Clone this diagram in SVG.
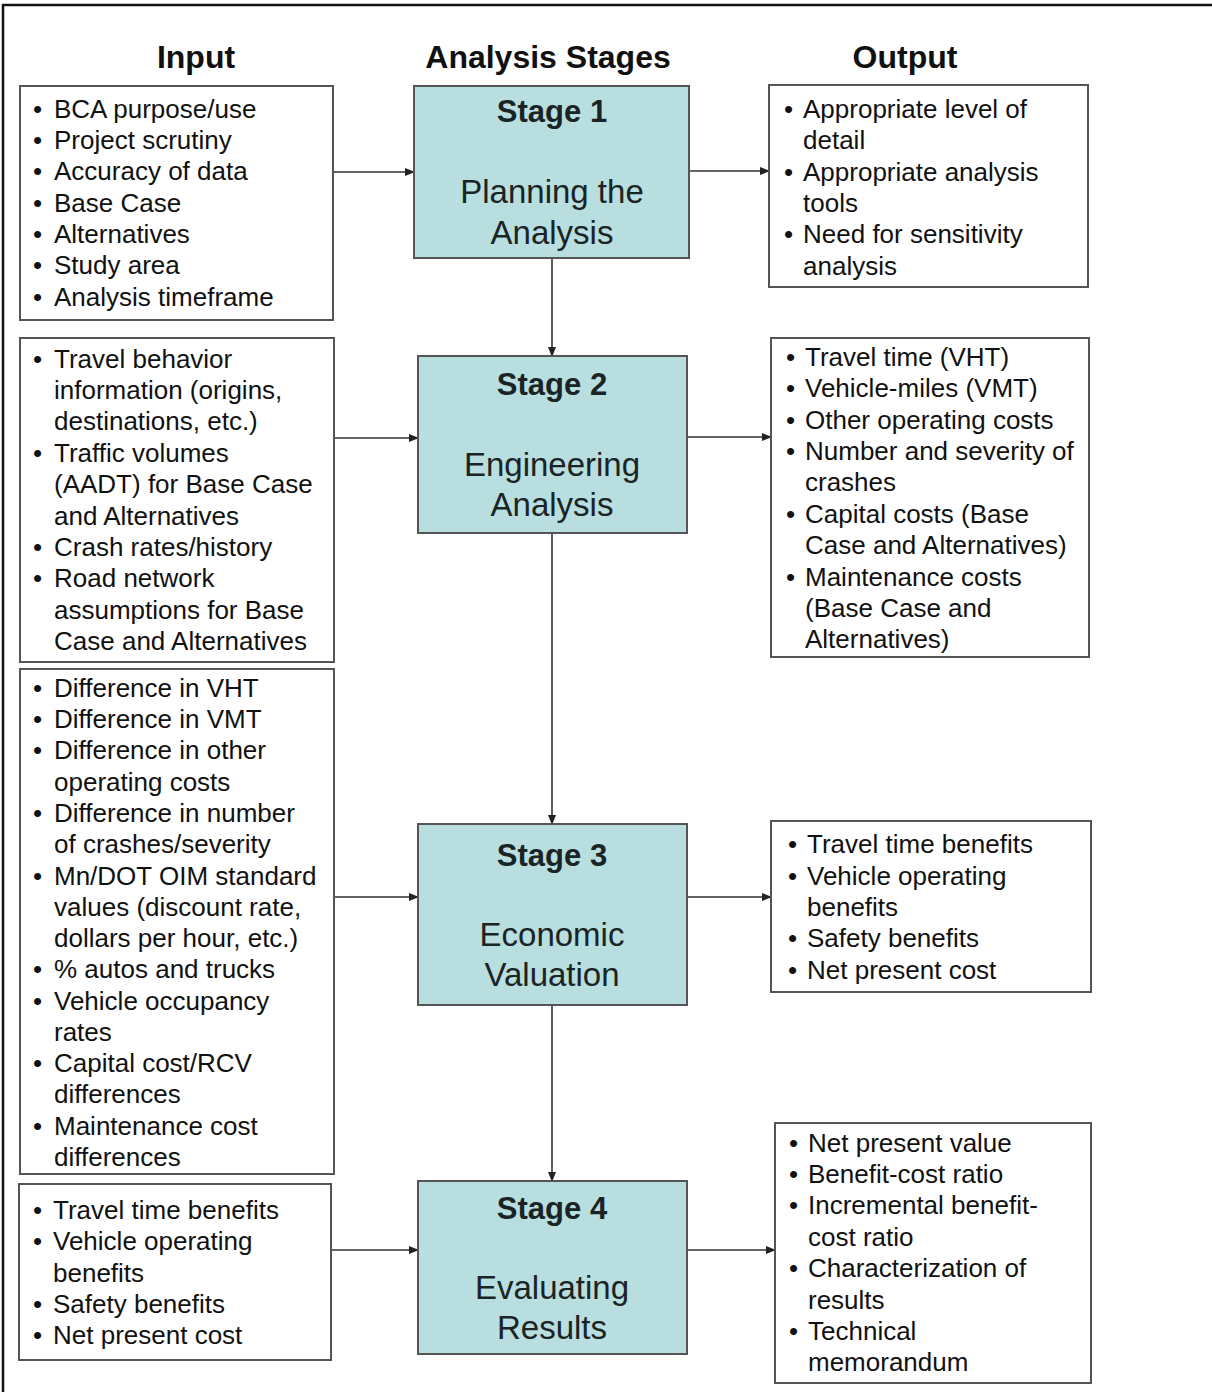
<svg xmlns="http://www.w3.org/2000/svg" width="1212" height="1392" viewBox="0 0 1212 1392">
<style>
  text { font-family: "Liberation Sans", Arial, sans-serif; fill: #111; }
  .hdr { font-size: 32px; font-weight: bold; text-anchor: middle; }
  .li { font-size: 26px; }
  .st { font-size: 31px; font-weight: bold; text-anchor: middle; fill: #1a2424; }
  .sb { font-size: 33px; text-anchor: middle; fill: #1a2424; }
  .box { fill: #fff; stroke: #555; stroke-width: 2; }
  .stage { fill: #b8dee0; stroke: #555; stroke-width: 2; }
  .conn { stroke: #333; stroke-width: 1.6; fill: none; marker-end: url(#arr); }
</style>
<defs>
  <marker id="arr" markerWidth="10" markerHeight="8" refX="9" refY="4" orient="auto" markerUnits="userSpaceOnUse">
    <path d="M0,0 L10,4 L0,8 Z" fill="#222"/>
  </marker>
</defs>
<rect width="1212" height="1392" fill="#fff"/>
<path d="M3,1392 V5 H1212" fill="none" stroke="#111" stroke-width="2.5"/>

<g id="headers">
  <text class="hdr" x="196" y="68">Input</text>
  <text class="hdr" x="548" y="68">Analysis Stages</text>
  <text class="hdr" x="905" y="68">Output</text>
</g>

<g id="connectors">
  <line class="conn" x1="333" y1="172" x2="414" y2="172"/>
  <line class="conn" x1="689" y1="171" x2="769" y2="171"/>
  <line class="conn" x1="552" y1="258" x2="552" y2="356"/>
  <line class="conn" x1="334" y1="438" x2="418" y2="438"/>
  <line class="conn" x1="687" y1="437" x2="771" y2="437"/>
  <line class="conn" x1="552" y1="533" x2="552" y2="824"/>
  <line class="conn" x1="334" y1="897" x2="418" y2="897"/>
  <line class="conn" x1="687" y1="897" x2="771" y2="897"/>
  <line class="conn" x1="552" y1="1005" x2="552" y2="1181"/>
  <line class="conn" x1="331" y1="1250" x2="418" y2="1250"/>
  <line class="conn" x1="687" y1="1250" x2="775" y2="1250"/>
</g>

<g id="input1">
  <rect class="box" x="20" y="86" width="313" height="234"/>
  <g class="li">
    <text class="li" x="33" y="118">•</text><text class="li" x="54" y="118">BCA purpose/use</text>
    <text class="li" x="33" y="149">•</text><text class="li" x="54" y="149">Project scrutiny</text>
    <text class="li" x="33" y="180">•</text><text class="li" x="54" y="180">Accuracy of data</text>
    <text class="li" x="33" y="212">•</text><text class="li" x="54" y="212">Base Case</text>
    <text class="li" x="33" y="243">•</text><text class="li" x="54" y="243">Alternatives</text>
    <text class="li" x="33" y="274">•</text><text class="li" x="54" y="274">Study area</text>
    <text class="li" x="33" y="306">•</text><text class="li" x="54" y="306">Analysis timeframe</text>
  </g>
</g>

<g id="stage1">
  <rect class="stage" x="414" y="86" width="275" height="172"/>
  <text class="st" x="552" y="122">Stage 1</text>
  <text class="sb" x="552" y="203">Planning the</text>
  <text class="sb" x="552" y="244">Analysis</text>
</g>

<g id="output1">
  <rect class="box" x="769" y="85" width="319" height="202"/>
  <text class="li" x="784" y="118">•</text><text class="li" x="803" y="118">Appropriate level of</text>
  <text class="li" x="803" y="149">detail</text>
  <text class="li" x="784" y="181">•</text><text class="li" x="803" y="181">Appropriate analysis</text>
  <text class="li" x="803" y="212">tools</text>
  <text class="li" x="784" y="243">•</text><text class="li" x="803" y="243">Need for sensitivity</text>
  <text class="li" x="803" y="275">analysis</text>
</g>

<g id="input2">
  <rect class="box" x="20" y="338" width="314" height="324"/>
  <text class="li" x="33" y="368">•</text><text class="li" x="54" y="368">Travel behavior</text>
  <text class="li" x="54" y="399">information (origins,</text>
  <text class="li" x="54" y="430">destinations, etc.)</text>
  <text class="li" x="33" y="462">•</text><text class="li" x="54" y="462">Traffic volumes</text>
  <text class="li" x="54" y="493">(AADT) for Base Case</text>
  <text class="li" x="54" y="525">and Alternatives</text>
  <text class="li" x="33" y="556">•</text><text class="li" x="54" y="556">Crash rates/history</text>
  <text class="li" x="33" y="587">•</text><text class="li" x="54" y="587">Road network</text>
  <text class="li" x="54" y="619">assumptions for Base</text>
  <text class="li" x="54" y="650">Case and Alternatives</text>
</g>

<g id="stage2">
  <rect class="stage" x="418" y="356" width="269" height="177"/>
  <text class="st" x="552" y="395">Stage 2</text>
  <text class="sb" x="552" y="476">Engineering</text>
  <text class="sb" x="552" y="516">Analysis</text>
</g>

<g id="output2">
  <rect class="box" x="771" y="338" width="318" height="319"/>
  <text class="li" x="786" y="366">•</text><text class="li" x="805" y="366">Travel time (VHT)</text>
  <text class="li" x="786" y="397">•</text><text class="li" x="805" y="397">Vehicle-miles (VMT)</text>
  <text class="li" x="786" y="429">•</text><text class="li" x="805" y="429">Other operating costs</text>
  <text class="li" x="786" y="460">•</text><text class="li" x="805" y="460">Number and severity of</text>
  <text class="li" x="805" y="491">crashes</text>
  <text class="li" x="786" y="523">•</text><text class="li" x="805" y="523">Capital costs (Base</text>
  <text class="li" x="805" y="554">Case and Alternatives)</text>
  <text class="li" x="786" y="586">•</text><text class="li" x="805" y="586">Maintenance costs</text>
  <text class="li" x="805" y="617">(Base Case and</text>
  <text class="li" x="805" y="648">Alternatives)</text>
</g>

<g id="input3">
  <rect class="box" x="20" y="669" width="314" height="505"/>
  <text class="li" x="33" y="697">•</text><text class="li" x="54" y="697">Difference in VHT</text>
  <text class="li" x="33" y="728">•</text><text class="li" x="54" y="728">Difference in VMT</text>
  <text class="li" x="33" y="759">•</text><text class="li" x="54" y="759">Difference in other</text>
  <text class="li" x="54" y="791">operating costs</text>
  <text class="li" x="33" y="822">•</text><text class="li" x="54" y="822">Difference in number</text>
  <text class="li" x="54" y="853">of crashes/severity</text>
  <text class="li" x="33" y="885">•</text><text class="li" x="54" y="885">Mn/DOT OIM standard</text>
  <text class="li" x="54" y="916">values (discount rate,</text>
  <text class="li" x="54" y="947">dollars per hour, etc.)</text>
  <text class="li" x="33" y="978">•</text><text class="li" x="54" y="978">% autos and trucks</text>
  <text class="li" x="33" y="1010">•</text><text class="li" x="54" y="1010">Vehicle occupancy</text>
  <text class="li" x="54" y="1041">rates</text>
  <text class="li" x="33" y="1072">•</text><text class="li" x="54" y="1072">Capital cost/RCV</text>
  <text class="li" x="54" y="1103">differences</text>
  <text class="li" x="33" y="1135">•</text><text class="li" x="54" y="1135">Maintenance cost</text>
  <text class="li" x="54" y="1166">differences</text>
</g>

<g id="stage3">
  <rect class="stage" x="418" y="824" width="269" height="181"/>
  <text class="st" x="552" y="866">Stage 3</text>
  <text class="sb" x="552" y="946">Economic</text>
  <text class="sb" x="552" y="986">Valuation</text>
</g>

<g id="output3">
  <rect class="box" x="771" y="821" width="320" height="171"/>
  <text class="li" x="788" y="853">•</text><text class="li" x="807" y="853">Travel time benefits</text>
  <text class="li" x="788" y="885">•</text><text class="li" x="807" y="885">Vehicle operating</text>
  <text class="li" x="807" y="916">benefits</text>
  <text class="li" x="788" y="947">•</text><text class="li" x="807" y="947">Safety benefits</text>
  <text class="li" x="788" y="979">•</text><text class="li" x="807" y="979">Net present cost</text>
</g>

<g id="input4">
  <rect class="box" x="19" y="1184" width="312" height="176"/>
  <text class="li" x="33" y="1219">•</text><text class="li" x="53" y="1219">Travel time benefits</text>
  <text class="li" x="33" y="1250">•</text><text class="li" x="53" y="1250">Vehicle operating</text>
  <text class="li" x="53" y="1282">benefits</text>
  <text class="li" x="33" y="1313">•</text><text class="li" x="53" y="1313">Safety benefits</text>
  <text class="li" x="33" y="1344">•</text><text class="li" x="53" y="1344">Net present cost</text>
</g>

<g id="stage4">
  <rect class="stage" x="418" y="1181" width="269" height="173"/>
  <text class="st" x="552" y="1219">Stage 4</text>
  <text class="sb" x="552" y="1299">Evaluating</text>
  <text class="sb" x="552" y="1339">Results</text>
</g>

<g id="output4">
  <rect class="box" x="775" y="1123" width="316" height="260"/>
  <text class="li" x="789" y="1152">•</text><text class="li" x="808" y="1152">Net present value</text>
  <text class="li" x="789" y="1183">•</text><text class="li" x="808" y="1183">Benefit-cost ratio</text>
  <text class="li" x="789" y="1214">•</text><text class="li" x="808" y="1214">Incremental benefit-</text>
  <text class="li" x="808" y="1246">cost ratio</text>
  <text class="li" x="789" y="1277">•</text><text class="li" x="808" y="1277">Characterization of</text>
  <text class="li" x="808" y="1309">results</text>
  <text class="li" x="789" y="1340">•</text><text class="li" x="808" y="1340">Technical</text>
  <text class="li" x="808" y="1371">memorandum</text>
</g>
</svg>
